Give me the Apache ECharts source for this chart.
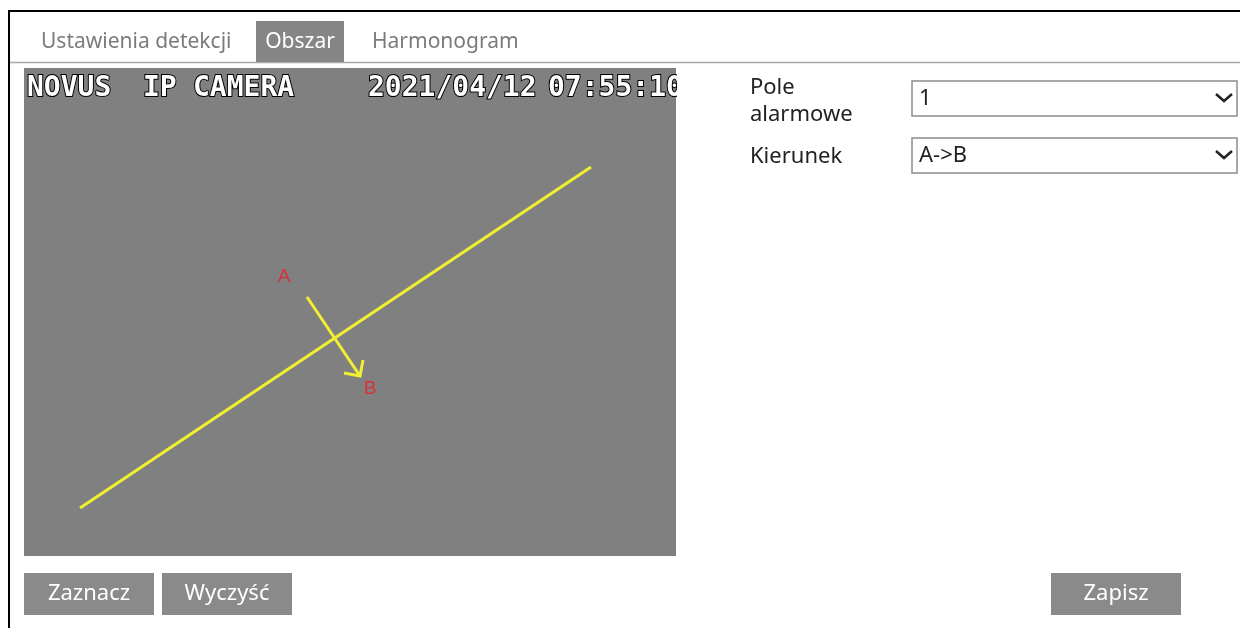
<!DOCTYPE html>
<html>
<head>
<meta charset="utf-8">
<title>Obszar</title>
<script src="https://cdn.jsdelivr.net/npm/echarts@6.0.0/dist/echarts.min.js"></script>
<style>
  html, body { margin: 0; padding: 0; background: #fff; }
  #main { width: 1240px; height: 628px; }
</style>
</head>
<body>
<div id="main"></div>
<script>
// camera frame, in picture pixels (x to the right, y down)
var frameSize = [652, 488];
// detection line
var tripwire = [[56, 440], [567, 99]];
// direction A -> B
var directionArrow = [[283, 229], [336, 308]];
var arrowHead = [[320, 305], [336, 308], [339, 292]];
var pointNames = ['A', 'B'];
var pointPos = [[260, 209], [346, 321]];

// texts of the page
var tabs = ['Ustawienia detekcji', 'Obszar', 'Harmonogram'];
var osdWords = ['NOVUS', 'IP', 'CAMERA', '2021/04/12', '07:55:10'];
var fieldLabels = ['Pole\nalarmowe', 'Kierunek'];
var fieldValues = ['1', 'A->B'];
var buttons = ['Zaznacz', 'Wyczyść', 'Zapisz'];

var tabFont = '21px "Noto Sans", "Open Sans", sans-serif';
var uiFont = '22px "Noto Sans", "Open Sans", sans-serif';
var osdFont = 'bold 28px "DejaVu Sans Mono", monospace';

var myChart = echarts.init(document.getElementById('main'));

var graphics = [];
// ramka
graphics.push({ type: 'polyline', z: 10, shape: { points: [[9, 628], [9, 11], [1240, 11]] },
  style: { stroke: '#000', lineWidth: 2, fill: null } });
graphics.push({ type: 'line', shape: { x1: 10, y1: 62.5, x2: 1240, y2: 62.5 },
  style: { stroke: '#a8a8a8', lineWidth: 1.5 } });
// zakladki
graphics.push({ type: 'rect', shape: { x: 256, y: 21, width: 88, height: 41 }, style: { fill: '#858585' } });
var tabX = [41, 300, 372];
tabs.forEach(function (t, i) {
  graphics.push({ type: 'text', style: { text: t, x: tabX[i], y: 42, font: tabFont,
    fill: i === 1 ? '#fff' : '#7b7b7b', textAlign: i === 1 ? 'center' : 'left', textVerticalAlign: 'middle' } });
});
// OSD
var osdX = [27, 143, 193, 368, 548];
osdWords.forEach(function (w, i) {
  graphics.push({ type: 'text', z: 5, style: { text: w, x: osdX[i], y: 89, font: osdFont,
    fill: '#fff', stroke: '#000', lineWidth: 2, textVerticalAlign: 'middle' } });
});
graphics.push({ type: 'rect', z: 6, shape: { x: 677, y: 66, width: 40, height: 46 }, style: { fill: '#fff' } });
// pola po prawej
graphics.push({ type: 'text', style: { text: fieldLabels[0], x: 750, y: 101, font: uiFont, lineHeight: 27,
  fill: '#222', textVerticalAlign: 'middle' } });
graphics.push({ type: 'text', style: { text: fieldLabels[1], x: 750, y: 157, font: uiFont,
  fill: '#222', textVerticalAlign: 'middle' } });
var boxY = [81, 138];
fieldValues.forEach(function (v, i) {
  var y = boxY[i];
  graphics.push({ type: 'rect', shape: { x: 912, y: y, width: 325, height: 35 },
    style: { fill: '#fff', stroke: '#8c8c8c', lineWidth: 1.5 } });
  graphics.push({ type: 'text', style: { text: v, x: 919, y: y + 18, font: uiFont,
    fill: '#222', textVerticalAlign: 'middle' } });
  graphics.push({ type: 'polyline', shape: { points: [[1216, y + 13], [1224, y + 20], [1232, y + 13]] },
    style: { stroke: '#222', lineWidth: 2.5, fill: null } });
});
// przyciski
var btnX = [24, 162, 1051];
buttons.forEach(function (b, i) {
  graphics.push({ type: 'rect', shape: { x: btnX[i], y: 573, width: 130, height: 42 }, style: { fill: '#8a8a8a' } });
  graphics.push({ type: 'text', style: { text: b, x: btnX[i] + 65, y: 594, font: uiFont,
    fill: '#fff', textAlign: 'center', textVerticalAlign: 'middle' } });
});

var yellow = '#f0f030';
var option = {
  animation: false,
  grid: { left: 24, top: 68, width: 652, height: 488, show: true, backgroundColor: '#808080', borderWidth: 0 },
  xAxis: { type: 'value', min: 0, max: frameSize[0], show: false },
  yAxis: { type: 'value', min: 0, max: frameSize[1], inverse: true, show: false },
  graphic: graphics,
  series: [
    { type: 'line', data: tripwire, symbol: 'none', lineStyle: { color: yellow, width: 3 } },
    { type: 'line', data: directionArrow, symbol: 'none', lineStyle: { color: yellow, width: 3 } },
    { type: 'line', data: arrowHead, symbol: 'none', lineStyle: { color: yellow, width: 3, join: 'miter' } },
    {
      type: 'scatter', symbolSize: 0, itemStyle: { color: 'rgba(0,0,0,0)' },
      data: pointNames.map(function (n, i) { return { name: n, value: pointPos[i] }; }),
      label: { show: true, position: 'inside', formatter: '{b}', color: '#f01c24',
        fontSize: 19, fontFamily: 'Liberation Sans' }
    }
  ]
};
myChart.setOption(option);
</script>
</body>
</html>
